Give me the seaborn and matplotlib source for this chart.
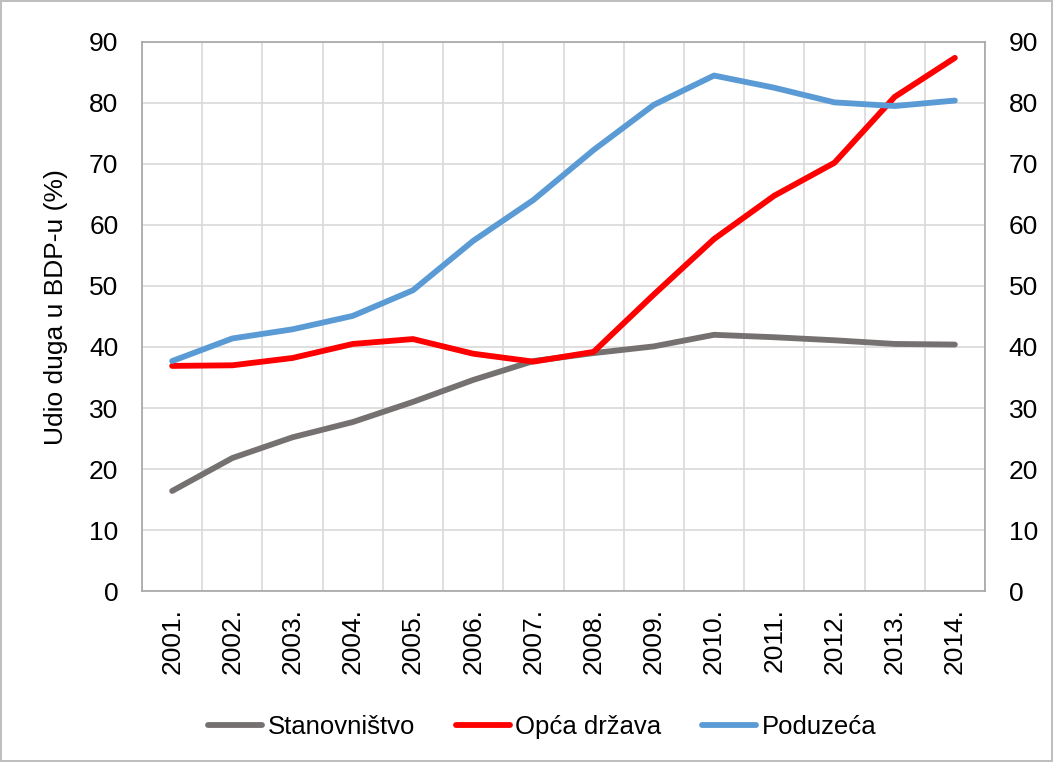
import pandas as pd
import matplotlib
matplotlib.use("Agg")
import matplotlib.pyplot as plt
import seaborn as sns

# Data
years = ["2001.", "2002.", "2003.", "2004.", "2005.", "2006.", "2007.",
         "2008.", "2009.", "2010.", "2011.", "2012.", "2013.", "2014."]
stanovnistvo = [16.4, 21.8, 25.2, 27.7, 31.0, 34.6, 37.7, 39.0, 40.1, 42.0, 41.6, 41.1, 40.5, 40.4]
opca_drzava = [36.9, 37.0, 38.2, 40.5, 41.3, 38.9, 37.6, 39.2, 48.6, 57.7, 64.8, 70.2, 81.0, 87.4]
poduzeca = [37.7, 41.4, 42.9, 45.1, 49.3, 57.4, 64.1, 72.3, 79.7, 84.5, 82.5, 80.1, 79.5, 80.4]

series = {"Stanovništvo": stanovnistvo, "Opća država": opca_drzava, "Poduzeća": poduzeca}
colors = {"Stanovništvo": "#767171", "Opća država": "#FF0000", "Poduzeća": "#5B9BD5"}

df = pd.DataFrame(
    [(i, name, v) for name, vals in series.items() for i, v in enumerate(vals)],
    columns=["x", "serija", "udio"],
)

sns.set_style("white")
plt.rcParams["font.family"] = ["Liberation Sans", "DejaVu Sans"]
plt.rcParams["text.color"] = "black"
plt.rcParams["xtick.color"] = "black"
plt.rcParams["ytick.color"] = "black"
plt.rcParams["axes.labelcolor"] = "black"

FS = 19

fig = plt.figure(figsize=(10.53, 7.62), dpi=100)
fig.patch.set_edgecolor("#BFBFBF")
fig.patch.set_linewidth(1.5)
ax = fig.add_axes([0.1349, 0.2244, 0.8005, 0.7205])

sns.lineplot(data=df, x="x", y="udio", hue="serija", palette=colors,
             linewidth=4.2, ax=ax, legend=False)

ax.set_xlim(-0.5, len(years) - 0.5)
ax.set_ylim(0, 90)
ax.set_yticks(range(0, 91, 10))
ax.tick_params(axis="y", labelsize=FS, length=0, pad=17)
ax.set_xticks(range(len(years)))
ax.set_xticklabels(years, rotation=90, fontsize=FS)
ax.tick_params(axis="x", length=0, pad=12)

# vertical gridlines at category boundaries, horizontal at each tick
for b in range(len(years) + 1):
    ax.axvline(b - 0.5, color="#D9D9D9", linewidth=1.2, zorder=0)
ax.grid(axis="y", color="#D9D9D9", linewidth=1.2)
ax.set_axisbelow(True)
for s in ax.spines.values():
    s.set_color("#A6A6A6")
    s.set_linewidth(1.2)

ax.set_xlabel("")
ax.set_ylabel("Udio duga u BDP-u (%)", fontsize=FS)
ax.yaxis.set_label_coords(-0.088, 0.517)

ax2 = ax.twinx()
ax2.set_ylim(0, 90)
ax2.set_yticks(range(0, 91, 10))
ax2.tick_params(axis="y", labelsize=FS, length=0, pad=17)
for s in ax2.spines.values():
    s.set_visible(False)

handles = [plt.Line2D([], [], color=colors[n], linewidth=4.2, solid_capstyle="round") for n in series]
fig.legend(handles, list(series.keys()), loc="center", bbox_to_anchor=(0.515, 0.046),
           ncol=3, frameon=False, fontsize=18.5, handlelength=2.1, handletextpad=0.2,
           columnspacing=1.6)

fig.savefig("out.png", dpi=100)
